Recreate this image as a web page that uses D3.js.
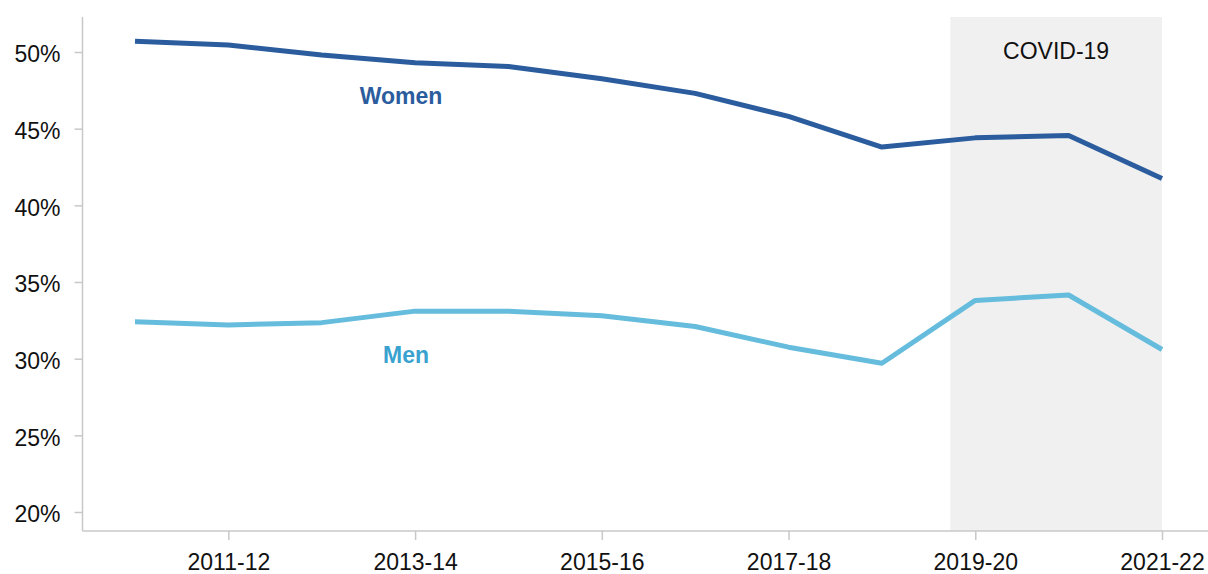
<!DOCTYPE html>
<html><head><meta charset="utf-8">
<script src="https://cdn.jsdelivr.net/npm/d3@7"></script>
<style>body{margin:0;background:#fff}svg{display:block;font-family:"Liberation Sans",Arial,sans-serif}</style>
</head><body><svg id="c" width="1208" height="574"></svg>
<script>
const years = ["2010-11","2011-12","2012-13","2013-14","2014-15","2015-16","2016-17","2017-18","2018-19","2019-20","2020-21","2021-22"];
const women = [50.7,50.45,49.8,49.3,49.05,48.25,47.3,45.8,43.8,44.4,44.55,41.75];
const men = [32.4,32.2,32.35,33.1,33.1,32.8,32.1,30.75,29.7,33.8,34.15,30.6];
const yTicks = [20,25,30,35,40,45,50];
const xTickLabels = ["2011-12","2013-14","2015-16","2017-18","2019-20","2021-22"];
const covidRange = ["2019-20","2021-22"];

const svg = d3.select("#c");
const x = d3.scalePoint().domain(years).range([135,1162]);
const y = d3.scaleLinear().domain([20,50]).range([512,52]);
const axisY = 531, axisX = 82.5;
const FS = 23;

// covid band
svg.append("rect").attr("x", x(covidRange[0]) - 25).attr("y", 17)
  .attr("width", x(covidRange[1]) - x(covidRange[0]) + 25).attr("height", axisY - 17)
  .attr("fill", "#f0f0f0");
svg.append("text").attr("x", (x(covidRange[0]) - 25 + x(covidRange[1]))/2).attr("y", 59)
  .attr("text-anchor","middle").attr("font-size",FS).attr("fill","#111").text("COVID-19");

// axes
const gy = svg.append("g").attr("transform",`translate(${axisX},0)`)
  .call(d3.axisLeft(y).tickValues(yTicks).tickFormat(d=>d+"%").tickSize(8).tickPadding(14));
gy.select(".domain").attr("d", `M0,17V${axisY}`);
gy.selectAll(".tick text").attr("dy","0.42em");
const gx = svg.append("g").attr("transform",`translate(0,${axisY})`)
  .call(d3.axisBottom(x).tickValues(xTickLabels).tickSize(9).tickPadding(14));
gx.select(".domain").attr("d", `M${axisX},0H1208`);
svg.selectAll(".domain, .tick line").attr("stroke","#c8c8c8").attr("stroke-width",1.5);
svg.selectAll(".tick text").attr("font-size",FS).attr("fill","#111").attr("font-family","Liberation Sans, Arial, sans-serif");

const line = d3.line().x((d,i)=>x(years[i])).y(d=>y(d));
svg.append("path").datum(women).attr("d",line).attr("fill","none").attr("stroke","#2b5c9e").attr("stroke-width",5).attr("stroke-linejoin","round");
svg.append("path").datum(men).attr("d",line).attr("fill","none").attr("stroke","#66bcdc").attr("stroke-width",5).attr("stroke-linejoin","round");

svg.append("text").attr("x",401).attr("y",104).attr("text-anchor","middle").attr("font-size",FS).attr("font-weight","bold").attr("fill","#2b5c9e").text("Women");
svg.append("text").attr("x",406).attr("y",363).attr("text-anchor","middle").attr("font-size",FS).attr("font-weight","bold").attr("fill","#3aa2cf").text("Men");
</script></body></html>
